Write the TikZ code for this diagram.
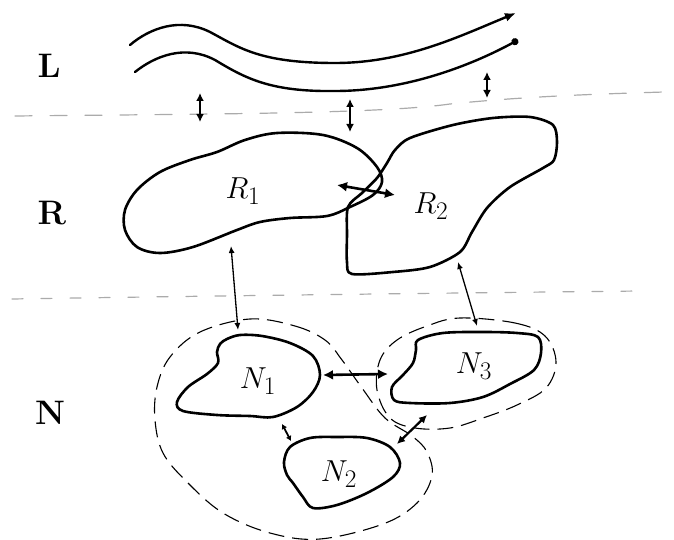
\documentclass[tikz,border=0pt]{standalone}
\usetikzlibrary{arrows.meta}
\begin{document}
\begin{tikzpicture}[x=1pt,y=-1pt,
  blob/.style={line width=2.6pt, line join=round},
  stream/.style={line width=2.4pt, line cap=round},
  guide/.style={black!33, line width=1.2pt, line cap=round},
  halo/.style={line width=1.1pt, dash pattern=on 16pt off 8pt},
  bigarr/.style={line width=2.6pt, {Latex[length=10pt,width=10pt]}-{Latex[length=10pt,width=10pt]}},
  midarr/.style={line width=2.2pt, {Latex[length=8pt,width=8pt]}-{Latex[length=8pt,width=8pt]}},
  smallarr/.style={line width=1.8pt, {Latex[length=5pt,width=6pt]}-{Latex[length=5pt,width=6pt]}},
  thinarr/.style={line width=1.3pt, {Latex[length=7pt,width=6pt]}-{Latex[length=7pt,width=6pt]}},
  layer/.style={font=\fontsize{34}{38}\selectfont\bfseries},
  lab/.style={font=\Huge, scale=1.22}]
\useasboundingbox (0,0) rectangle (674,540);

% layer labels
\node[layer] (L) at (49,66) {L};
\node[layer] (R) at (52,213) {R};
\node[layer] (N) at (50,413) {N};

% stream lines
\draw[stream, -{Latex[length=11pt,width=9pt]}] (130,45) .. controls (150,28) and (180,17) .. (210,32)
  .. controls (240,48) and (260,63) .. (335,63) .. controls (405,63) and (460,36) .. (516,13);
\draw[stream, -{Circle[length=7pt]}] (135,72) .. controls (155,56) and (185,44) .. (215,60)
  .. controls (245,78) and (270,92) .. (335,91) .. controls (405,91) and (470,66) .. (518,40);

% guide lines
\draw[guide, dash pattern=on 17pt off 18pt] (15,116) .. controls (200,114) and (380,114) .. (450,104) .. controls (530,96) and (600,94) .. (664,92);
\draw[guide, dash pattern=on 11pt off 18pt] (12,299) .. controls (200,296) and (450,293) .. (640,291);

% blobs R
\draw[blob] plot[smooth cycle, tension=0.55] coordinates {(125,210) (137,190) (160,172) (190,160) (217,152) (245,140) (277,133) (323,135) (357,148) (377,167) (382,182) (373,195) (350,207) (327,216) (290,218) (260,222) (237,230) (193,247) (160,253) (137,247) (125,230)};
\draw[blob] plot[smooth cycle, tension=0.5] coordinates {(348,207) (362,193) (377,178) (387,163) (395,150) (410,138) (453,125) (493,118) (530,117) (553,125) (557,142) (554,160) (543,168) (510,187) (487,208) (472,232) (460,252) (430,267) (393,272) (352,274) (347,262) (347,235)};
\node[lab] (R1) at (243,191) {$R_1$};
\node[lab] (R2) at (431,206) {$R_2$};

% N halos
\draw[halo] plot[smooth cycle, tension=0.6] coordinates {(250,319) (295,326) (325,340) (342,360) (362,388) (385,418) (412,436) (427,452) (432,476) (417,503) (383,524) (320,539) (270,533) (223,513) (187,482) (163,453) (155,420) (157,387) (170,357) (200,332)};
\draw[halo] plot[smooth cycle, tension=0.6] coordinates {(460,318) (515,323) (545,336) (556,362) (546,388) (517,405) (483,418) (450,428) (415,428) (390,418) (377,390) (380,360) (397,340) (427,326)};

% blobs N
\draw[blob] plot[smooth cycle, tension=0.55] coordinates {(227,339) (240,335) (262,336) (290,343) (313,356) (320,375) (313,392) (297,407) (273,417) (250,416) (217,415) (183,411) (177,402) (188,387) (207,374) (218,363) (217,352) (220,344)};
\draw[blob] plot[smooth cycle, tension=0.55] coordinates {(290,447) (310,438) (337,437) (367,438) (390,447) (400,463) (393,477) (367,493) (337,505) (313,508) (303,497) (293,483) (287,475) (284,462)};
\draw[blob] plot[smooth cycle, tension=0.55] coordinates {(418,340) (443,333) (483,332) (517,333) (538,337) (541,353) (534,370) (510,384) (483,397) (450,403) (410,403) (394,400) (392,387) (403,375) (413,363) (416,350)};
\node[lab] (N1) at (258,381) {$N_1$};
\node[lab] (N2) at (339,474) {$N_2$};
\node[lab] (N3) at (474,366) {$N_3$};

% connector end points
\coordinate (a1) at (200,93);  \coordinate (a2) at (200,122);
\coordinate (b1) at (350,99);  \coordinate (b2) at (350,132);
\coordinate (c1) at (487,72);  \coordinate (c2) at (487,98);
\coordinate (d1) at (337,185); \coordinate (d2) at (395,195);
\coordinate (e1) at (231,246); \coordinate (e2) at (238,330);
\coordinate (f1) at (458,262); \coordinate (f2) at (477,326);
\coordinate (g1) at (323,375); \coordinate (g2) at (388,374);
\coordinate (h1) at (282,424); \coordinate (h2) at (291,441);
\coordinate (i1) at (427,415); \coordinate (i2) at (397,444);

\draw[midarr] (a1) -- (a2);
\draw[midarr] (b1) -- (b2);
\draw[midarr] (c1) -- (c2);
\draw[bigarr] (d1) -- (d2);
\draw[thinarr] (e1) -- (e2);
\draw[thinarr] (f1) -- (f2);
\draw[bigarr] (g1) -- (g2);
\draw[smallarr] (h1) -- (h2);
\draw[midarr] (i1) -- (i2);
\end{tikzpicture}
\end{document}
